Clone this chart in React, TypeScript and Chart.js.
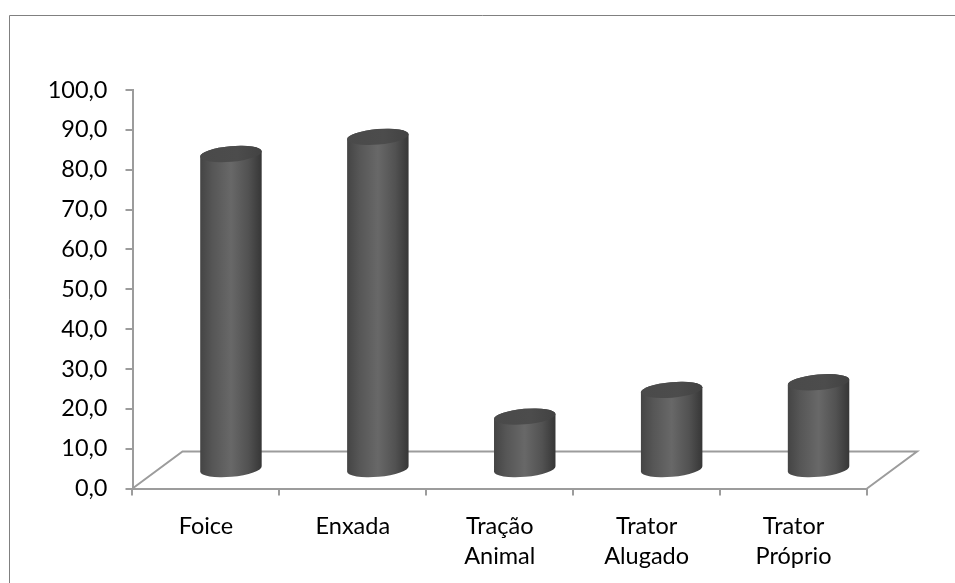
import React, { useEffect, useRef } from "react";
import { Chart, registerables } from "chart.js";

Chart.register(...registerables);

const categories = [["Foice"], ["Enxada"], ["Tração", "Animal"], ["Trator", "Alugado"], ["Trator", "Próprio"]];
const values = [79.3, 83.6, 13.4, 20.1, 22.0];

const FONT = "Lato";
const AXIS = "#9c9c9c";
const DEPTH_X = 25;
const DEPTH_Y = 18.5;
const FLOOR_X = 50;
const FLOOR_Y = 37;

const backdrop = {
  id: "backdrop",
  beforeDraw(chart: any) {
    const { ctx, width, height } = chart;
    ctx.save();
    ctx.strokeStyle = "#808080";
    ctx.lineWidth = 1;
    ctx.beginPath();
    ctx.moveTo(9.5, height);
    ctx.lineTo(9.5, 15.5);
    ctx.lineTo(width, 15.5);
    ctx.stroke();
    ctx.restore();
  },
  beforeDatasetsDraw(chart: any) {
    const { ctx, chartArea: a } = chart;
    ctx.save();
    ctx.strokeStyle = AXIS;
    ctx.lineWidth = 2;
    ctx.lineJoin = "miter";
    ctx.beginPath();
    ctx.moveTo(a.left, a.bottom);
    ctx.lineTo(a.left + FLOOR_X, a.bottom - FLOOR_Y);
    ctx.lineTo(a.right + FLOOR_X, a.bottom - FLOOR_Y);
    ctx.lineTo(a.right, a.bottom);
    ctx.stroke();
    ctx.restore();
  },
};

const cylinders = {
  id: "cylinders",
  afterDatasetsDraw(chart: any) {
    const { ctx } = chart;
    const meta = chart.getDatasetMeta(0);
    const rot = (-5 * Math.PI) / 180;
    const ry = 7.8;
    meta.data.forEach((el: any) => {
      const cx = el.x + DEPTH_X;
      const rx = el.width / 2;
      const topY = el.y - DEPTH_Y;
      const botY = el.base - DEPTH_Y;
      ctx.save();
      const g = ctx.createLinearGradient(cx - rx, 0, cx + rx, 0);
      g.addColorStop(0, "#444444");
      g.addColorStop(0.2, "#565656");
      g.addColorStop(0.5, "#686868");
      g.addColorStop(0.78, "#525252");
      g.addColorStop(1, "#363636");
      ctx.fillStyle = g;
      ctx.beginPath();
      ctx.ellipse(cx, botY, rx, ry, rot, 0, Math.PI);
      ctx.ellipse(cx, topY, rx, ry, rot, Math.PI, 2 * Math.PI);
      ctx.closePath();
      ctx.fill();
      const t = ctx.createLinearGradient(cx - rx, 0, cx + rx, 0);
      t.addColorStop(0, "#4a4a4a");
      t.addColorStop(0.6, "#4c4c4c");
      t.addColorStop(1, "#424242");
      ctx.fillStyle = t;
      ctx.beginPath();
      ctx.ellipse(cx, topY, rx, ry, rot, 0, 2 * Math.PI);
      ctx.fill();
      ctx.restore();
    });
  },
};

export default function App() {
  const ref = useRef<HTMLCanvasElement>(null);
  useEffect(() => {
    const chart = new Chart(ref.current!, {
      type: "bar",
      data: {
        labels: categories as any,
        datasets: [
          {
            data: values,
            backgroundColor: "rgba(0,0,0,0)",
            borderWidth: 0,
            barPercentage: 0.42,
            categoryPercentage: 1,
          },
        ],
      },
      options: {
        responsive: false,
        animation: false,
        layout: { padding: { top: 90, right: 88, left: 0, bottom: 0 } },
        plugins: { legend: { display: false }, tooltip: { enabled: false } },
        scales: {
          x: {
            offset: true,
            border: { color: AXIS, width: 2 },
            grid: { offset: true, drawOnChartArea: false, drawTicks: true, tickLength: 7, color: AXIS, lineWidth: 2 },
            ticks: {
              color: "#000",
              padding: 16,
              maxRotation: 0,
              autoSkip: false,
              font: { family: FONT, size: 23.5, lineHeight: 1.28 },
            },
            afterFit(s: any) {
              s.height = 583 - 488.5;
            },
          },
          y: {
            min: 0,
            max: 100,
            border: { color: AXIS, width: 2 },
            grid: { drawOnChartArea: false, drawTicks: true, tickLength: 7, color: AXIS, lineWidth: 2 },
            ticks: {
              color: "#000",
              padding: 18,
              stepSize: 10,
              font: { family: FONT, size: 23.5 },
              callback: (v: any) => Number(v).toFixed(1).replace(".", ","),
            },
            afterFit(s: any) {
              s.width = 132.5;
            },
          },
        },
      },
      plugins: [backdrop, cylinders],
    } as any);
    return () => chart.destroy();
  }, []);
  return (
    <canvas
      ref={ref}
      width={955}
      height={583}
      style={{ position: "fixed", left: 0, top: 0, width: 955, height: 583, display: "block" }}
    />
  );
}
